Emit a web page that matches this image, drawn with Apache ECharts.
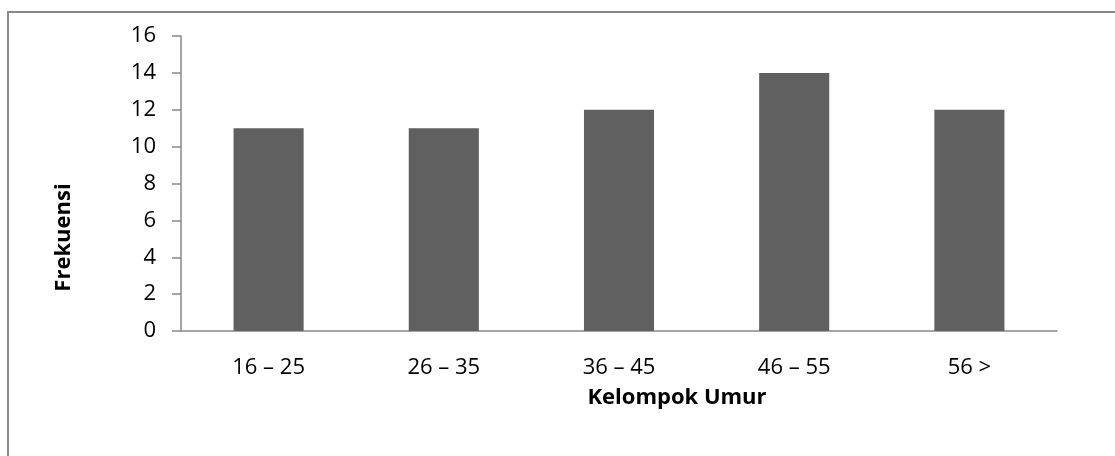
<!DOCTYPE html>
<html>
<head>
<meta charset="utf-8">
<script src="https://cdn.jsdelivr.net/npm/echarts@6/dist/echarts.min.js"></script>
<style>
html,body{margin:0;padding:0;background:#fff;}
#chart{width:1115px;height:456px;}
</style>
</head>
<body>
<div id="chart"></div>
<script>
var categories = ['16 – 25', '26 – 35', '36 – 45', '46 – 55', '56 >'];
var frekuensi = [11, 11, 12, 14, 12];
var yTicks = [0, 2, 4, 6, 8, 10, 12, 14, 16];
var xTitle = 'Kelompok Umur';
var yTitle = 'Frekuensi';

var FONT = 'Open Sans';
var chart = echarts.init(document.getElementById('chart'), null, {renderer: 'canvas'});
chart.setOption({
  backgroundColor: '#ffffff',
  animation: false,
  graphic: [{
    type: 'rect',
    shape: {x: 8, y: 12, width: 1200, height: 600},
    style: {fill: 'none', stroke: '#898989', lineWidth: 2},
    silent: true
  }],
  grid: {left: 181, right: 58, top: 36, bottom: 125, containLabel: false},
  xAxis: {
    type: 'category',
    data: categories,
    name: xTitle,
    nameLocation: 'middle',
    nameGap: 56,
    nameTextStyle: {fontFamily: FONT, fontSize: 22, fontWeight: 'bold', color: '#000', padding: [0, 0, 0, 116]},
    axisLine: {show: true, lineStyle: {color: '#898989', width: 1.5}},
    axisTick: {show: false},
    axisLabel: {fontFamily: FONT, fontSize: 22, color: '#000', margin: 26}
  },
  yAxis: {
    type: 'value',
    min: yTicks[0],
    max: yTicks[yTicks.length - 1],
    interval: 2,
    name: yTitle,
    nameLocation: 'middle',
    nameGap: 106,
    nameRotate: 90,
    nameTextStyle: {fontFamily: FONT, fontSize: 22, fontWeight: 'bold', color: '#000', padding: [0, 108, 0, 0]},
    axisLine: {show: true, lineStyle: {color: '#898989', width: 1.5}},
    axisTick: {show: true, inside: false, length: 9, lineStyle: {color: '#898989', width: 1.5}},
    axisLabel: {fontFamily: FONT, fontSize: 22, color: '#000', margin: 25},
    splitLine: {show: false}
  },
  series: [{
    type: 'bar',
    data: frekuensi,
    barWidth: '40%',
    itemStyle: {color: '#606060'}
  }]
});
</script>
</body>
</html>
